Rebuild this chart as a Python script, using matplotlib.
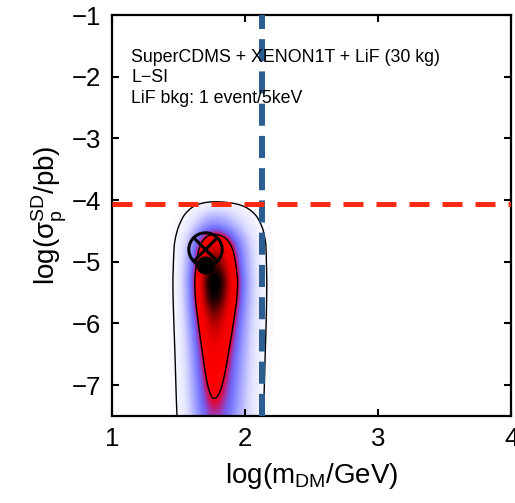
import numpy as np
import matplotlib
matplotlib.use("Agg")
import matplotlib.pyplot as plt
from matplotlib.colors import LinearSegmentedColormap

plt.rcParams['font.family'] = ['Liberation Sans', 'DejaVu Sans']
plt.rcParams['mathtext.fontset'] = 'custom'
plt.rcParams['mathtext.rm'] = 'Liberation Sans'
plt.rcParams['mathtext.it'] = 'Liberation Sans:italic'
plt.rcParams['mathtext.bf'] = 'Liberation Sans:bold'

# Posterior core along log(sigma): height at each level
y_knots = [-8.5, -8.0, -7.5, -7.27, -7.0, -6.5, -6.0, -5.6, -5.3, -5.0,
           -4.8, -4.6, -4.4, -4.2, -4.0, -3.8]
core_amp = [0.12, 0.16, 0.20, 0.25, 0.30, 0.41, 0.62, 0.90, 1.00, 0.77,
            0.60, 0.35, 0.10, 0.03, 0.004, 1e-4]
# Broad low-level tail of the posterior
halo_y = [-8.5, -7.5, -6.0, -4.7, -4.45, -4.25, -4.1, -4.0, -3.95]
halo_amp = [0.035, 0.042, 0.05, 0.05, 0.04, 0.025, 0.012, 0.004, 1e-4]

core_center = 1.765
core_width = 0.10
left_scale, right_scale = 0.9, 1.1
halo_center = 1.82
halo_width = 0.17

# Contour levels for the two credible regions
contour_levels = [0.008, 0.30]

# Best fit and benchmark points
bench_x, bench_y = 1.70, -4.80
best_x, best_y = 1.70, -5.05

# Exclusion limits
mass_limit = 2.13
sigma_limit = -4.07

x_ticks = [1, 2, 3, 4]
y_ticks = [-7, -6, -5, -4, -3, -2, -1]


def smooth(v, dy, width):
    n = int(4 * width / dy)
    k = np.arange(-n, n + 1) * dy
    kern = np.exp(-0.5 * (k / width) ** 2)
    kern /= kern.sum()
    pad = np.concatenate([np.full(n, v[0]), v, np.full(n, v[-1])])
    return np.convolve(pad, kern, mode='valid')


xg = np.linspace(1.0, 4.0, 900)
yg = np.linspace(-8.5, -1.0, 900)
dy = yg[1] - yg[0]
A = np.exp(smooth(np.interp(yg, y_knots, np.log(core_amp),
                            right=np.log(1e-6)), dy, 0.06))
H = np.exp(smooth(np.interp(yg, halo_y, np.log(halo_amp),
                            right=np.log(1e-6)), dy, 0.04))
X, Y = np.meshgrid(xg, yg)
sc = core_width * np.where(X < core_center, left_scale, right_scale)
core = A[:, None] * np.exp(-0.5 * ((X - core_center) / sc) ** 2)
halo = H[:, None] * np.exp(-0.5 * ((X - halo_center) / halo_width) ** 2)
dens = core + halo
vmax = dens.max()

cmap = LinearSegmentedColormap.from_list('post', [
    (0.00, '#ffffff'), (0.008, '#f4f4ff'), (0.03, '#dcdcff'),
    (0.06, '#b8b8ff'), (0.10, '#9898ff'), (0.15, '#7878ff'),
    (0.20, '#7a5ae8'), (0.25, '#b02890'), (0.29, '#f00020'),
    (0.33, '#ff0000'), (0.50, '#f00000'), (0.62, '#c80000'),
    (0.75, '#800000'), (0.87, '#300000'), (0.95, '#080000'),
    (1.00, '#000000')])

fig = plt.figure(figsize=(5.15, 5.03), dpi=100)
ax = fig.add_axes([0.2175, 0.173, 0.7755, 0.797])

ax.imshow(dens, extent=[xg[0], xg[-1], yg[0], yg[-1]], origin='lower',
          aspect='auto', cmap=cmap, vmin=0, vmax=vmax,
          interpolation='bilinear', zorder=0)
ax.contour(X, Y, dens, levels=contour_levels, colors='black',
           linewidths=1.0, zorder=1)

ax.axvline(mass_limit, color='#2a5d91', lw=4.3, dashes=(3.7, 1.7), zorder=3)
ax.axhline(sigma_limit, color='#ff2a10', lw=3.6, dashes=(4.0, 2.6), zorder=3)

ax.plot([best_x], [best_y], 'o', color='black', ms=12, zorder=4)
ax.plot([bench_x], [bench_y], 'o', mfc='none', mec='black', ms=24, mew=2.2,
        zorder=5)
ax.plot([bench_x], [bench_y], 'x', color='black', ms=17, mew=2.2, zorder=5)

ax.set_xlim(1, 4)
ax.set_ylim(-7.5, -1)
ax.set_xticks(x_ticks)
ax.set_yticks(y_ticks)
ax.set_yticklabels(['\u2212%d' % abs(t) for t in y_ticks])
ax.tick_params(direction='in', length=5, width=1.5, labelsize=18.5,
               top=True, right=True, pad=8)
for s in ax.spines.values():
    s.set_linewidth(1.6)

ax.set_xlabel(r'$\mathrm{log(m_{DM}/GeV)}$', fontsize=20, labelpad=7)
ax.set_ylabel(r'$\mathrm{log(σ_{p}^{SD}/pb)}$', fontsize=20, labelpad=2)

lines = ['SuperCDMS + XENON1T + LiF (30 kg)', 'L\u2212SI',
         'LiF bkg: 1 event/5keV']
for i, t in enumerate(lines):
    ax.text(0.048, 0.884 - 0.0515 * i, t, transform=ax.transAxes,
            fontsize=12.8, va='baseline', ha='left', zorder=6)

fig.savefig('out.png', dpi=100)
